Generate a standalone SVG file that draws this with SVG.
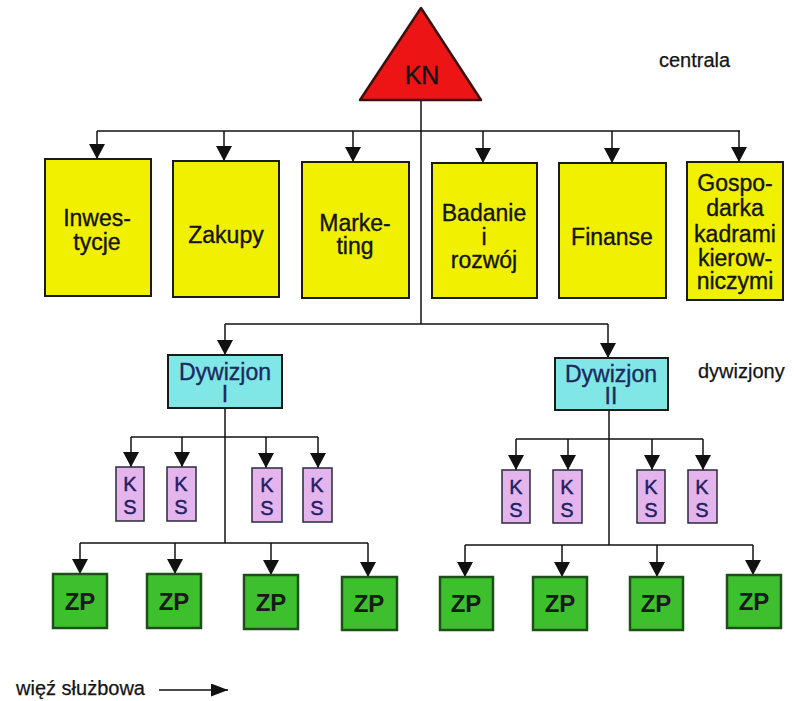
<svg xmlns="http://www.w3.org/2000/svg" width="794" height="701" viewBox="0 0 794 701">
  <style>
    text { font-family: "Liberation Sans", Arial, sans-serif; text-anchor: middle; fill: #141414; }
    .con { fill: none; stroke: #111; stroke-width: 1.5; }
    .dept { fill: #f0f000; stroke: #1a1a1a; stroke-width: 2; }
    .dept-t { font-size: 23px; stroke: #141414; stroke-width: 0.35; }
    .div { fill: #80e6e6; stroke: #1a1a1a; stroke-width: 2; }
    .div-t { font-size: 23px; fill: #1c2a5c; stroke: #1c2a5c; stroke-width: 0.35; }
    .ks { fill: #e4b4ec; stroke: #2a2a3a; stroke-width: 1.5; }
    .ks-t { font-size: 20px; fill: #1e2060; stroke: #1e2060; stroke-width: 0.4; }
    .zp { fill: #3ec02e; stroke: #1c4f1a; stroke-width: 2.5; }
    .zp-t { font-size: 24px; font-weight: bold; fill: #1a1a1a; }
    .lbl { font-size: 20px; text-anchor: start; stroke: #141414; stroke-width: 0.25; }
  </style>
  <defs>
    <marker id="arr" markerUnits="userSpaceOnUse" markerWidth="15" markerHeight="16" refX="15" refY="8" orient="auto">
      <path d="M0,0 L15,8 L0,16 z" fill="#111"/>
    </marker>
    <marker id="arr-s" markerUnits="userSpaceOnUse" markerWidth="17" markerHeight="13" refX="17" refY="6.5" orient="auto">
      <path d="M0,0 L17,6.5 L0,13 z" fill="#111"/>
    </marker>
  </defs>

  <!-- connectors -->
  <g id="connectors">
    <!-- headquarters trunk and department bus -->
    <path class="con" d="M421,100 V324"/>
    <path class="con" d="M97,131 H740"/>
    <path class="con" marker-end="url(#arr)" d="M97,131 V159"/>
    <path class="con" marker-end="url(#arr)" d="M224,131 V161"/>
    <path class="con" marker-end="url(#arr)" d="M353,131 V162"/>
    <path class="con" marker-end="url(#arr)" d="M483,131 V163"/>
    <path class="con" marker-end="url(#arr)" d="M612,131 V163"/>
    <path class="con" marker-end="url(#arr)" d="M739,131 V162"/>

    <!-- division bus -->
    <path class="con" d="M225,324 H608"/>
    <path class="con" marker-end="url(#arr)" d="M225,324 V355"/>
    <path class="con" marker-end="url(#arr)" d="M608,324 V358"/>

    <!-- division I -->
    <path class="con" d="M225,408 V543"/>
    <path class="con" d="M131,437 H318"/>
    <path class="con" marker-end="url(#arr)" d="M131,437 V467"/>
    <path class="con" marker-end="url(#arr)" d="M182,437 V467"/>
    <path class="con" marker-end="url(#arr)" d="M266,437 V468"/>
    <path class="con" marker-end="url(#arr)" d="M318,437 V468"/>
    <path class="con" d="M80,543 H368"/>
    <path class="con" marker-end="url(#arr)" d="M80,543 V574"/>
    <path class="con" marker-end="url(#arr)" d="M175,543 V574"/>
    <path class="con" marker-end="url(#arr)" d="M271,543 V575"/>
    <path class="con" marker-end="url(#arr)" d="M368,543 V577"/>

    <!-- division II -->
    <path class="con" d="M609,410 V545"/>
    <path class="con" d="M516,439 H703"/>
    <path class="con" marker-end="url(#arr)" d="M516,439 V470"/>
    <path class="con" marker-end="url(#arr)" d="M568,439 V470"/>
    <path class="con" marker-end="url(#arr)" d="M652,439 V470"/>
    <path class="con" marker-end="url(#arr)" d="M703,439 V470"/>
    <path class="con" d="M465,545 H753"/>
    <path class="con" marker-end="url(#arr)" d="M465,545 V577"/>
    <path class="con" marker-end="url(#arr)" d="M562,545 V577"/>
    <path class="con" marker-end="url(#arr)" d="M657,545 V577"/>
    <path class="con" marker-end="url(#arr)" d="M753,545 V575"/>

    <!-- legend arrow -->
    <path class="con" marker-end="url(#arr-s)" d="M159,690 H228"/>
  </g>

  <!-- headquarters -->
  <g id="kn">
    <polygon points="421,8 360,100 481,100" fill="#ec1414" stroke="#3a1010" stroke-width="2.5" stroke-linejoin="round"/>
    <text x="422" y="84" style="font-size:25px; stroke:#141414; stroke-width:0.4">KN</text>
  </g>

  <!-- central departments -->
  <g id="inwestycje">
    <rect class="dept" x="45" y="159" width="106" height="137"/>
    <text class="dept-t" x="97" y="226">Inwes-</text>
    <text class="dept-t" x="97" y="250">tycje</text>
  </g>
  <g id="zakupy">
    <rect class="dept" x="173" y="161" width="106" height="136"/>
    <text class="dept-t" x="226" y="243">Zakupy</text>
  </g>
  <g id="marketing">
    <rect class="dept" x="302" y="162" width="107" height="136"/>
    <text class="dept-t" x="355" y="231">Marke-</text>
    <text class="dept-t" x="355" y="254">ting</text>
  </g>
  <g id="badanie">
    <rect class="dept" x="432" y="163" width="105" height="135"/>
    <text class="dept-t" x="484" y="221">Badanie</text>
    <text class="dept-t" x="484" y="245">i</text>
    <text class="dept-t" x="484" y="268">rozwój</text>
  </g>
  <g id="finanse">
    <rect class="dept" x="559" y="163" width="107" height="135"/>
    <text class="dept-t" x="612" y="245">Finanse</text>
  </g>
  <g id="gospodarka">
    <rect class="dept" x="687" y="162" width="96" height="138"/>
    <text class="dept-t" x="735" y="191">Gospo-</text>
    <text class="dept-t" x="735" y="216">darka</text>
    <text class="dept-t" x="735" y="242">kadrami</text>
    <text class="dept-t" x="735" y="266">kierow-</text>
    <text class="dept-t" x="735" y="289">niczymi</text>
  </g>

  <!-- divisions -->
  <g id="dywizjon-1">
    <rect class="div" x="168" y="355" width="114" height="53"/>
    <text class="div-t" x="225" y="380">Dywizjon</text>
    <text class="div-t" x="225" y="402">I</text>
  </g>
  <g id="dywizjon-2">
    <rect class="div" x="555" y="358" width="113" height="52"/>
    <text class="div-t" x="611" y="382">Dywizjon</text>
    <text class="div-t" x="611" y="404">II</text>
  </g>

  <!-- KS units, division I -->
  <g id="ks-1a"><rect class="ks" x="116" y="467" width="28" height="54"/><text class="ks-t" x="130" y="491">K</text><text class="ks-t" x="130" y="514">S</text></g>
  <g id="ks-1b"><rect class="ks" x="167" y="467" width="29" height="54"/><text class="ks-t" x="181" y="491">K</text><text class="ks-t" x="181" y="514">S</text></g>
  <g id="ks-1c"><rect class="ks" x="252" y="468" width="30" height="54"/><text class="ks-t" x="267" y="492">K</text><text class="ks-t" x="267" y="515">S</text></g>
  <g id="ks-1d"><rect class="ks" x="303" y="468" width="29" height="54"/><text class="ks-t" x="317" y="492">K</text><text class="ks-t" x="317" y="515">S</text></g>

  <!-- KS units, division II -->
  <g id="ks-2a"><rect class="ks" x="502" y="470" width="28" height="53"/><text class="ks-t" x="516" y="494">K</text><text class="ks-t" x="516" y="517">S</text></g>
  <g id="ks-2b"><rect class="ks" x="553" y="470" width="29" height="53"/><text class="ks-t" x="567" y="494">K</text><text class="ks-t" x="567" y="517">S</text></g>
  <g id="ks-2c"><rect class="ks" x="637" y="470" width="28" height="53"/><text class="ks-t" x="651" y="494">K</text><text class="ks-t" x="651" y="517">S</text></g>
  <g id="ks-2d"><rect class="ks" x="688" y="470" width="29" height="53"/><text class="ks-t" x="702" y="494">K</text><text class="ks-t" x="702" y="517">S</text></g>

  <!-- ZP units, division I -->
  <g id="zp-1a"><rect class="zp" x="53" y="574" width="54" height="54"/><text class="zp-t" x="80" y="610">ZP</text></g>
  <g id="zp-1b"><rect class="zp" x="147" y="574" width="54" height="54"/><text class="zp-t" x="174" y="610">ZP</text></g>
  <g id="zp-1c"><rect class="zp" x="244" y="575" width="54" height="54"/><text class="zp-t" x="271" y="611">ZP</text></g>
  <g id="zp-1d"><rect class="zp" x="342" y="577" width="55" height="53"/><text class="zp-t" x="369" y="612">ZP</text></g>

  <!-- ZP units, division II -->
  <g id="zp-2a"><rect class="zp" x="440" y="577" width="53" height="53"/><text class="zp-t" x="466" y="612">ZP</text></g>
  <g id="zp-2b"><rect class="zp" x="533" y="577" width="54" height="53"/><text class="zp-t" x="560" y="612">ZP</text></g>
  <g id="zp-2c"><rect class="zp" x="630" y="577" width="53" height="53"/><text class="zp-t" x="656" y="612">ZP</text></g>
  <g id="zp-2d"><rect class="zp" x="727" y="575" width="54" height="53"/><text class="zp-t" x="754" y="610">ZP</text></g>

  <!-- level labels and legend -->
  <text class="lbl" x="659" y="67">centrala</text>
  <text class="lbl" x="698" y="378">dywizjony</text>
  <text class="lbl" x="16" y="695">więź służbowa</text>
</svg>
